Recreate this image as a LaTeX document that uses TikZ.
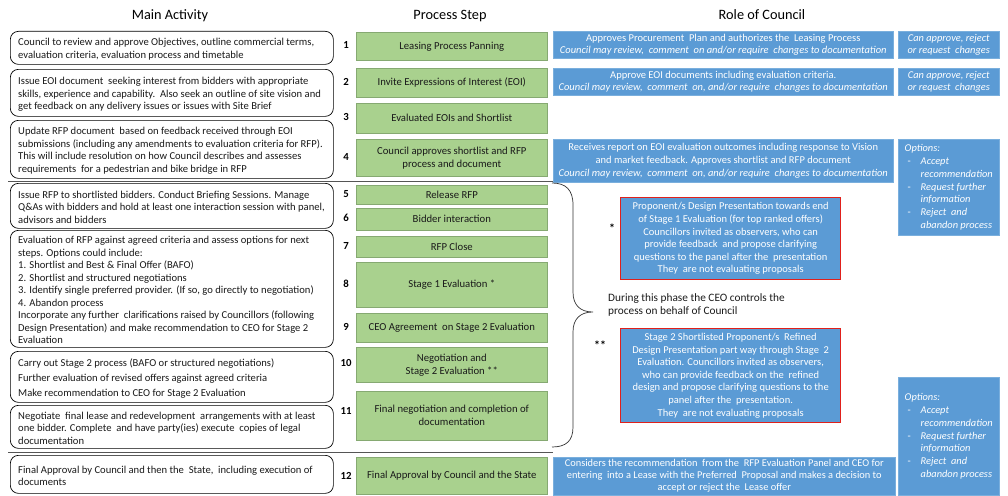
\documentclass[tikz,border=0pt]{standalone}
\usepackage{fontspec}
\setmainfont{Carlito}
\usetikzlibrary{calc}
\definecolor{cblue}{HTML}{5B9BD5}
\definecolor{cblueline}{HTML}{7AAFDD}
\definecolor{cgreen}{HTML}{A9D18E}
\definecolor{cgreenline}{HTML}{86A972}
\definecolor{cred}{HTML}{E0201B}
\definecolor{csep}{HTML}{555555}
\definecolor{ctext}{HTML}{1A1A1A}
\begin{document}
\begin{tikzpicture}[x=1pt,y=-1pt,
  head/.style={anchor=base, inner sep=0pt, font=\fontsize{14.3}{16}\selectfont},
  actbox/.style={draw=black, line width=0.7pt, rounded corners=8pt, fill=white, anchor=north west, minimum width=323pt, inner sep=0pt},
  acttext/.style={anchor=west, inner sep=0pt, align=left, text=ctext, font=\fontsize{10.6}{12.5}\selectfont},
  stepbox/.style={draw=cgreenline, fill=cgreen, line width=0.6pt, anchor=north west, minimum width=191pt, inner sep=0pt, align=center, text=ctext, font=\fontsize{10.7}{13}\selectfont},
  num/.style={inner sep=0pt, font=\fontsize{10.8}{12}\selectfont\bfseries},
  rolebox/.style={fill=cblue, draw=cblueline, line width=0.5pt, anchor=north west, inner sep=0pt, align=center, text=white, font=\fontsize{10.5}{12.6}\selectfont},
  optbox/.style={rolebox, minimum width=101pt, align=left, font=\fontsize{10.4}{12.8}\selectfont},
  redbox/.style={rolebox, draw=cred, line width=1.3pt, minimum width=220pt, font=\fontsize{10.5}{12.6}\selectfont},
  sepline/.style={draw=csep, line width=0.7pt},
  brace/.style={draw=black!80, line width=0.7pt}
]
\useasboundingbox (0,0) rectangle (1008,495);

% headings
\node[head] (hMain) at (170,20) {Main Activity};
\node[head] (hStep) at (450,20) {Process Step};
\node[head] (hRole) at (762,20) {Role of Council};

% separator lines
\coordinate (s1L) at (8,181);
\coordinate (s1R) at (553,181);
\coordinate (s2L) at (8,452.5);
\coordinate (s2R) at (553,452.5);
\draw[sepline] (s1L) -- (s1R);
\draw[sepline] (s2L) -- (s2R);

% main activity boxes
\node[actbox, minimum height=33pt] (a1) at (10,31) {};
\node[actbox, minimum height=47pt] (a2) at (10,69) {};
\node[actbox, minimum height=58pt] (a3) at (10,120) {};
\node[actbox, minimum height=45pt] (a4) at (10,183) {};
\node[actbox, minimum height=117pt] (a5) at (10,230) {};
\node[actbox, minimum height=51pt] (a6) at (10,351) {};
\node[actbox, minimum height=43pt] (a7) at (10,405) {};
\node[actbox, minimum height=38pt] (a8) at (10,455) {};

\node[acttext] (a1t) at ([xshift=8pt,yshift=-1.5pt]a1.west) {Council to review and approve Objectives, outline commercial terms,\\evaluation criteria, evaluation process and timetable};
\node[acttext] (a2t) at ([xshift=8pt,yshift=-1.5pt]a2.west) {Issue EOI document\ \ seeking interest from bidders with appropriate\\skills, experience and capability.\ \ Also seek an outline of site vision and\\get feedback on any delivery issues or issues with Site Brief};
\node[acttext] (a3t) at ([xshift=8pt,yshift=-1.5pt]a3.west) {Update RFP document\ \ based on feedback received through EOI\\submissions (including any amendments to evaluation criteria for RFP).\\This will include resolution on how Council describes and assesses\\requirements\ \ for a pedestrian and bike bridge in RFP};
\node[acttext] (a4t) at ([xshift=8pt,yshift=-1.5pt]a4.west) {Issue RFP to shortlisted bidders. Conduct Briefing Sessions. Manage\\Q\&As with bidders and hold at least one interaction session with panel,\\advisors and bidders};
\node[acttext] (a5t) at ([xshift=8pt,yshift=-1.5pt]a5.west) {Evaluation of RFP against agreed criteria and assess options for next\\steps. Options could include:\\1. Shortlist and Best \& Final Offer (BAFO)\\2. Shortlist and structured negotiations\\3. Identify single preferred provider. (If so, go directly to negotiation)\\4. Abandon process\\Incorporate any further\ \ clarifications raised by Councillors (following\\Design Presentation) and make recommendation to CEO for Stage 2\\Evaluation};
\node[acttext, font=\fontsize{10.6}{15}\selectfont] (a6t) at ([xshift=8pt,yshift=-1.5pt]a6.west) {Carry out Stage 2 process (BAFO or structured negotiations)\\Further evaluation of revised offers against agreed criteria\\Make recommendation to CEO for Stage 2 Evaluation};
\node[acttext] (a7t) at ([xshift=8pt,yshift=-1.5pt]a7.west) {Negotiate\ \ final lease and redevelopment\ \ arrangements with at least\\one bidder. Complete\ \ and have party(ies) execute\ \ copies of legal\\documentation};
\node[acttext] (a8t) at ([xshift=8pt,yshift=-1.5pt]a8.west) {Final Approval by Council and then the\ \ State,\ \ including execution of\\documents};

% step numbers
\node[num] (n1) at (346,45) {1};
\node[num] (n2) at (346,82) {2};
\node[num] (n3) at (346,117) {3};
\node[num] (n4) at (346,157) {4};
\node[num] (n5) at (346,194) {5};
\node[num] (n6) at (346,218) {6};
\node[num] (n7) at (346,245.5) {7};
\node[num] (n8) at (346,284) {8};
\node[num] (n9) at (346,327) {9};
\node[num] (n10) at (346,363) {10};
\node[num] (n11) at (346,411) {11};
\node[num] (n12) at (346,476) {12};

% process steps
\node[stepbox, minimum height=28pt] (s1) at (356,32) {Leasing Process Panning};
\node[stepbox, minimum height=29pt] (s2) at (356,68) {Invite Expressions of Interest (EOI)};
\node[stepbox, minimum height=30pt] (s3) at (356,103) {Evaluated EOIs and Shortlist};
\node[stepbox, minimum height=37pt] (s4) at (356,139) {Council approves shortlist and RFP\\process and document};
\node[stepbox, minimum height=19pt] (s5) at (356,185) {Release RFP};
\node[stepbox, minimum height=22pt] (s6) at (356,208) {Bidder interaction};
\node[stepbox, minimum height=21pt] (s7) at (356,236) {RFP Close};
\node[stepbox, minimum height=45pt] (s8) at (356,262) {Stage 1 Evaluation *};
\node[stepbox, minimum height=29pt] (s9) at (356,313) {CEO Agreement\ \ on Stage 2 Evaluation};
\node[stepbox, minimum height=35pt] (s10) at (356,347) {Negotiation and\\Stage 2 Evaluation **};
\node[stepbox, minimum height=49pt] (s11) at (356,391) {Final negotiation and completion of\\documentation};
\node[stepbox, minimum height=37pt] (s12) at (356,457) {Final Approval by Council and the State};

% role of council
\node[rolebox, minimum width=340pt, minimum height=27pt] (r1) at (553,31) {Approves Procurement\ \ Plan and authorizes the\ \ Leasing Process\\\textit{Council may review,\ \ comment\ \ on and/or require\ \ changes to documentation}};
\node[rolebox, minimum width=340pt, minimum height=27pt] (r2) at (553,68) {Approve EOI documents including evaluation criteria.\\\textit{Council may review,\ \ comment\ \ on, and/or require\ \ changes to documentation}};
\node[rolebox, minimum width=340pt, minimum height=43pt] (r4) at (553,139) {Receives report on EOI evaluation outcomes including response to Vision\\and market feedback. Approves shortlist and RFP document\\\textit{Council may review,\ \ comment\ \ on, and/or require\ \ changes to documentation}};
\node[rolebox, minimum width=342pt, minimum height=38pt, font=\fontsize{10.4}{12}\selectfont] (r12) at (553,457) {Considers the recommendation\ \ from the\ \ RFP Evaluation Panel and CEO for\\entering\ \ into a Lease with the Preferred\ \ Proposal and makes a decision to\\accept or reject the\ \ Lease offer};

\node[rolebox, minimum width=101pt, minimum height=27pt, font=\fontsize{10.4}{12.6}\selectfont] (c1) at (898,31) {\textit{Can approve, reject}\\\textit{or request\ \ changes}};
\node[rolebox, minimum width=101pt, minimum height=27pt, font=\fontsize{10.4}{12.6}\selectfont] (c2) at (898,68) {\textit{Can approve, reject}\\\textit{or request\ \ changes}};
\node[optbox, minimum height=96pt] (o1) at (898,139) {\textit{Options:}\\\makebox[16pt][l]{\hspace{3pt}-}\textit{Accept}\\\hspace*{16pt}\textit{recommendation}\\\makebox[16pt][l]{\hspace{3pt}-}\textit{Request further}\\\hspace*{16pt}\textit{information}\\\makebox[16pt][l]{\hspace{3pt}-}\textit{Reject\ \ and}\\\hspace*{16pt}\textit{abandon process}};
\node[optbox, minimum height=118pt] (o2) at (898,377) {\textit{Options:}\\\makebox[16pt][l]{\hspace{3pt}-}\textit{Accept}\\\hspace*{16pt}\textit{recommendation}\\\makebox[16pt][l]{\hspace{3pt}-}\textit{Request further}\\\hspace*{16pt}\textit{information}\\\makebox[16pt][l]{\hspace{3pt}-}\textit{Reject\ \ and}\\\hspace*{16pt}\textit{abandon process}};

% CEO phase brace and notes
\coordinate (bTop) at (552,183);
\coordinate (bTip) at (593,312);
\coordinate (bBot) at (552,447);
\draw[brace] (bTop) .. controls (566,183) and (573,190) .. (573,205) -- (573,292)
  .. controls (573,305) and (580,312) .. (bTip)
  .. controls (580,312) and (573,319) .. (573,332) -- (573,427)
  .. controls (573,441) and (566,447) .. (bBot);

\node[anchor=west, inner sep=0pt, align=left, text=ctext, font=\fontsize{11.3}{13}\selectfont] (ceo) at (608,305) {During this phase the CEO controls the\\process on behalf of Council};

\node[redbox, minimum height=82pt] (p1) at (620,197) {Proponent/s Design Presentation towards end\\of Stage 1 Evaluation (for top ranked offers)\\Councillors invited as observers, who can\\provide feedback\ \ and propose clarifying\\questions to the panel after the\ \ presentation\\They\ \ are not evaluating proposals};
\node[redbox, minimum height=94pt] (p2) at (620,328) {Stage 2 Shortlisted Proponent/s\ \ Refined\\Design Presentation part way through Stage\ \ 2\\Evaluation. Councillors invited as observers,\\who can provide feedback on the\ \ refined\\design and propose clarifying questions to the\\panel after the\ \ presentation.\\They\ \ are not evaluating proposals};

\node[inner sep=0pt, font=\fontsize{12}{12}\selectfont\bfseries] (st1) at (612,228) {*};
\node[inner sep=0pt, font=\fontsize{12}{12}\selectfont\bfseries] (st2) at (600,345) {**};
\end{tikzpicture}
\end{document}
